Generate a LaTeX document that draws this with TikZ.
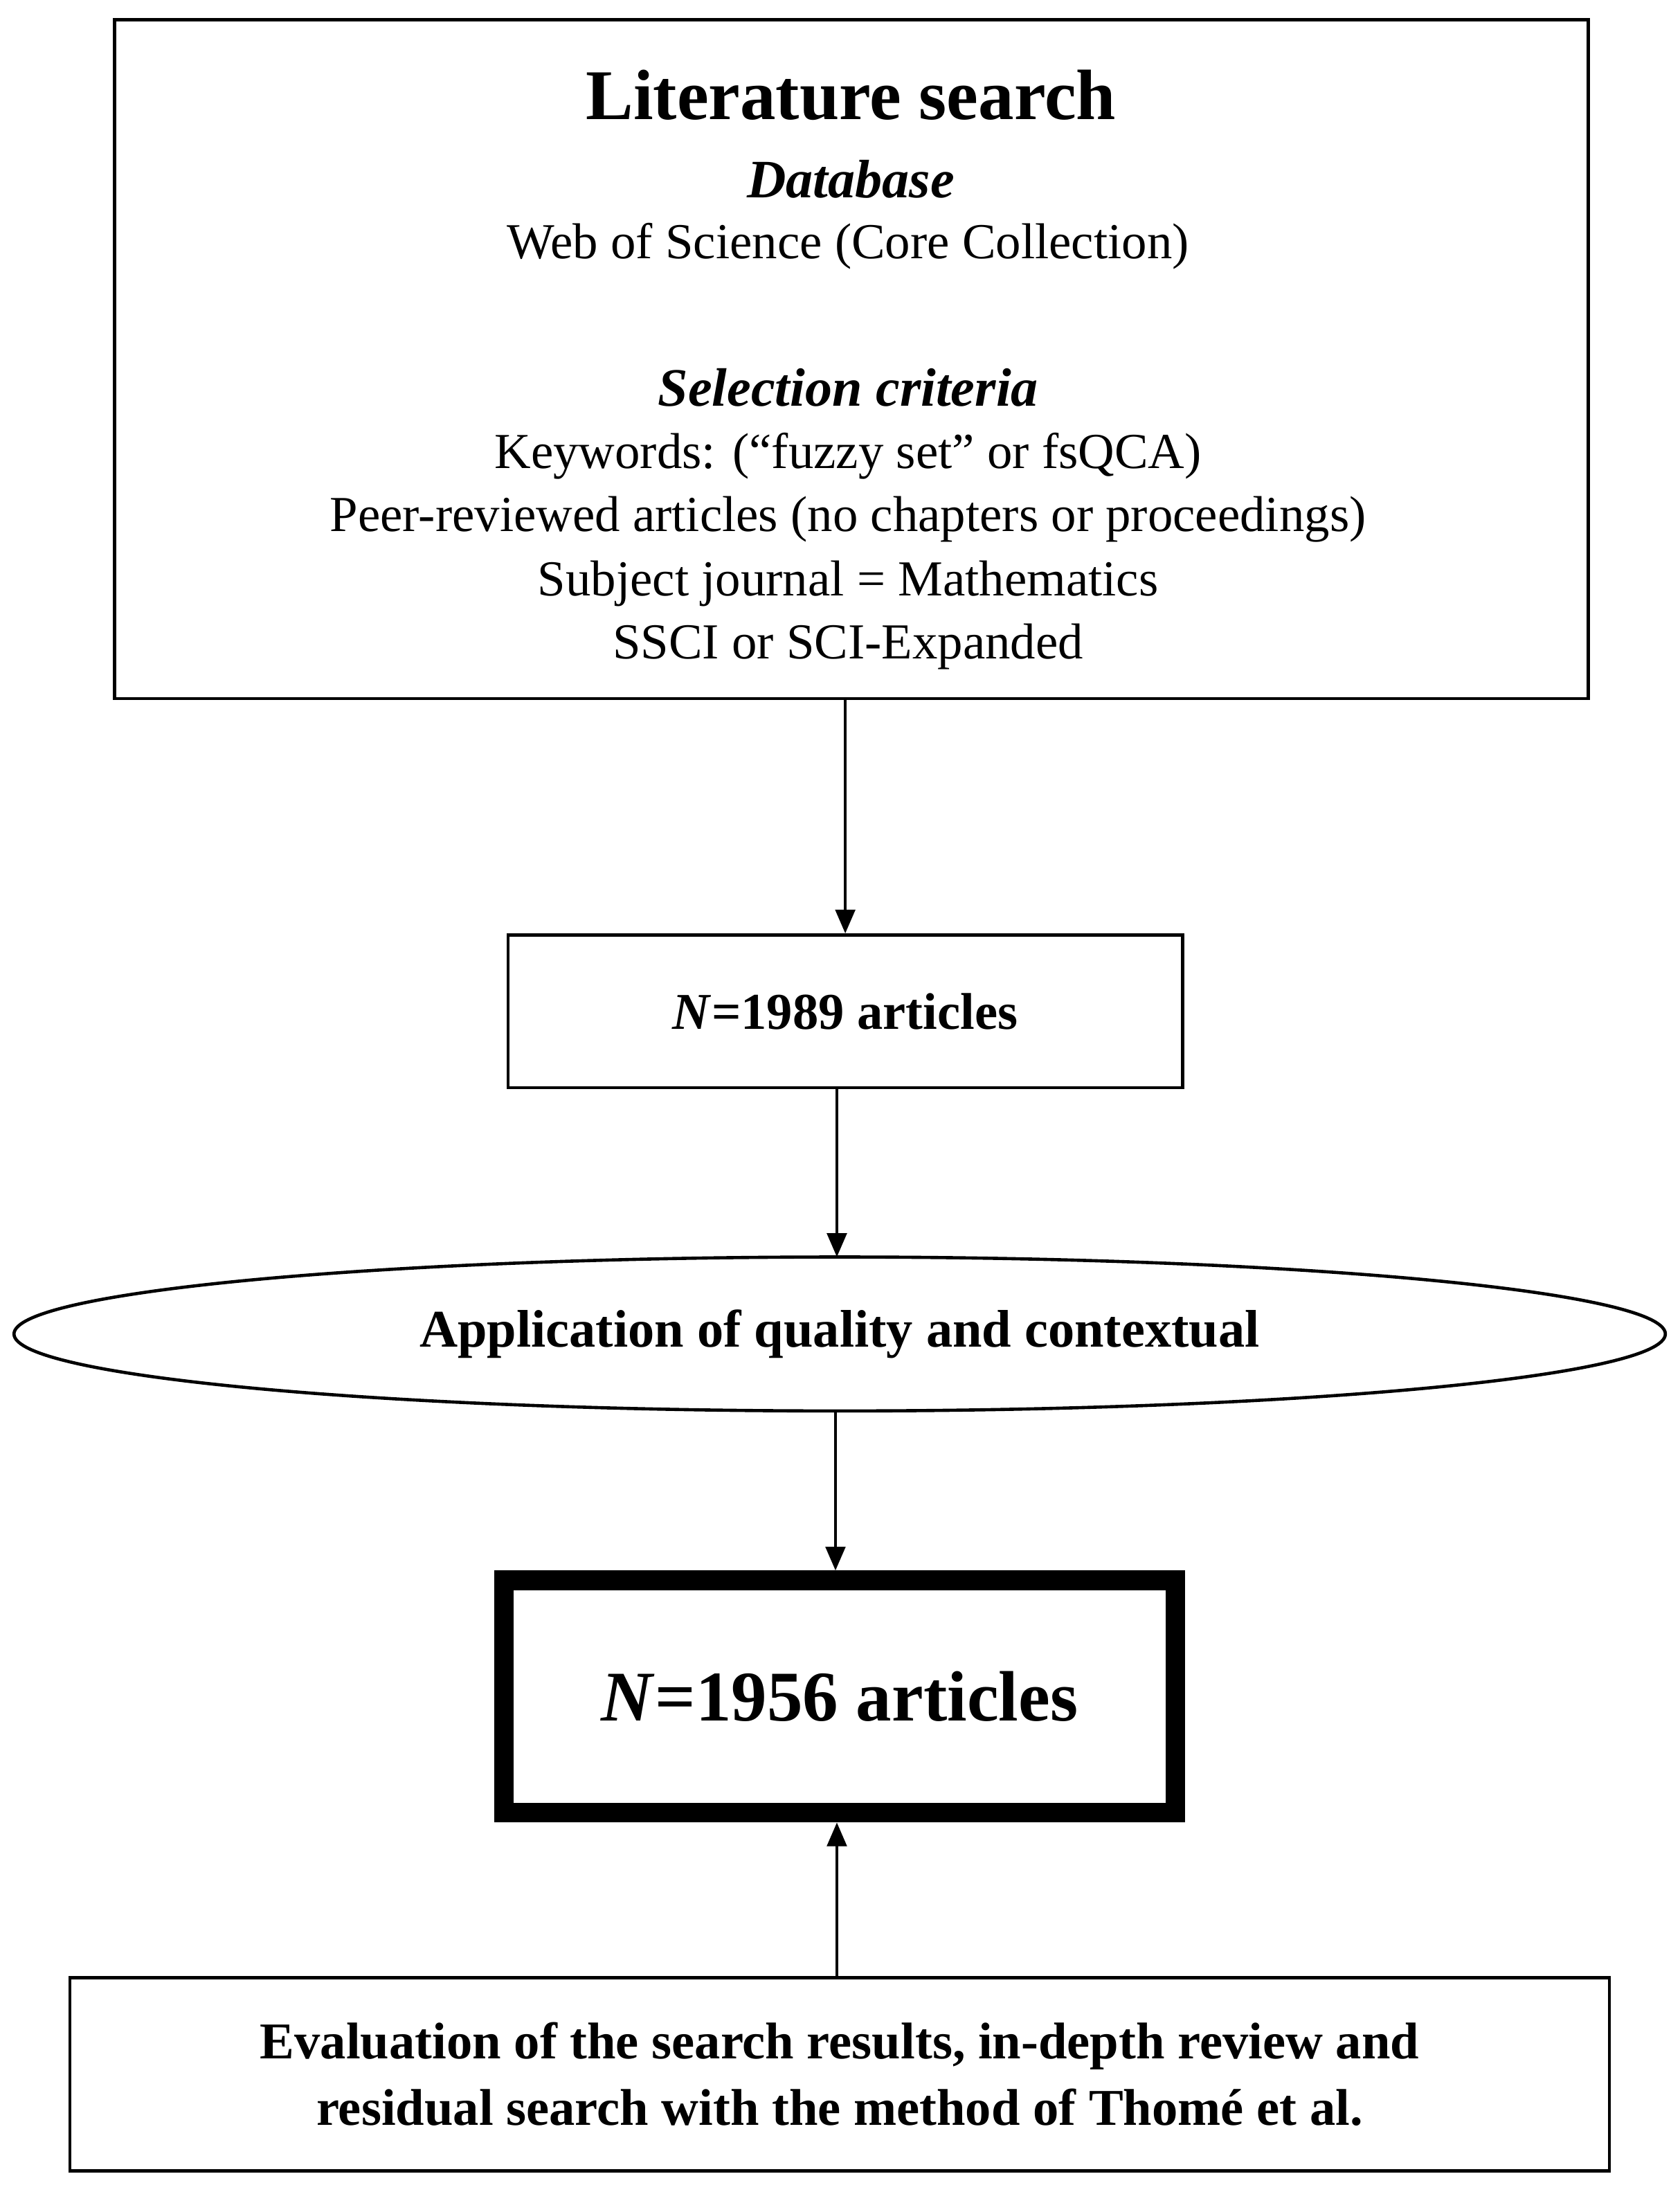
\documentclass[tikz,border=0pt]{standalone}
\usepackage{fontspec}
\setmainfont{Liberation Serif}
\usetikzlibrary{shapes.geometric,arrows.meta}
\begin{document}
\begin{tikzpicture}[x=0.02cm,y=-0.02cm,
  box/.style={draw,line width=1.3pt,inner sep=0pt},
  arr/.style={line width=1.3pt,-{Triangle[length=0.34cm,width=0.28cm]}},
  body/.style={font=\fontsize{20.5}{24}\selectfont}]
\useasboundingbox (0,0) rectangle (1200,1566);
\node[box,minimum width=1053*0.02cm,minimum height=485*0.02cm] (top) at (608.5,256.5) {};
\node[font=\fontsize{29}{32}\selectfont\bfseries] (t1) at (608,68) {Literature search};
\node[font=\fontsize{22}{24}\selectfont\bfseries\itshape] (t2) at (608,128) {Database};
\node[body] (t3) at (606,176) {Web of Science (Core Collection)};
\node[font=\fontsize{22}{24}\selectfont\bfseries\itshape] (t4) at (606,277) {Selection criteria};
\node[body] (t5) at (606,326) {Keywords: (“fuzzy set” or fsQCA)};
\node[body] (t6) at (606,371) {Peer-reviewed articles (no chapters or proceedings)};
\node[body] (t7) at (606,417) {Subject journal = Mathematics};
\node[body] (t8) at (606,462) {SSCI or SCI-Expanded};
\node[box,minimum width=482*0.02cm,minimum height=109*0.02cm,font=\fontsize{21}{24}\selectfont\bfseries] (b2) at (604,722.5) {\textit{N}=1989 articles};
\node[draw,ellipse,line width=1.3pt,minimum width=1180*0.02cm,minimum height=110*0.02cm,inner sep=0pt,font=\fontsize{21.5}{24}\selectfont\bfseries] (el) at (600,953) {Application of quality and contextual};
\node[draw,line width=0.28cm,minimum width=480*0.02cm,minimum height=166*0.02cm,inner sep=0pt,font=\fontsize{29}{32}\selectfont\bfseries] (b3) at (600,1212) {\textit{N}=1956 articles};
\node[box,minimum width=1100*0.02cm,minimum height=138*0.02cm,align=center,font=\fontsize{21}{27}\selectfont\bfseries] (b4) at (600,1482) {Evaluation of the search results, in-depth review and\\residual search with the method of Thomé et al.};
\coordinate (a1) at (604,499);
\coordinate (a2s) at (598,777);
\coordinate (a2e) at (598,898);
\coordinate (a3s) at (597,1008);
\coordinate (a3e) at (597,1122);
\coordinate (a4s) at (598,1413);
\coordinate (a4e) at (598,1302);
\draw[arr] (a1) -- (b2.north);
\draw[arr] (a2s) -- (a2e);
\draw[arr] (a3s) -- (a3e);
\draw[arr] (a4s) -- (a4e);
\end{tikzpicture}
\end{document}
